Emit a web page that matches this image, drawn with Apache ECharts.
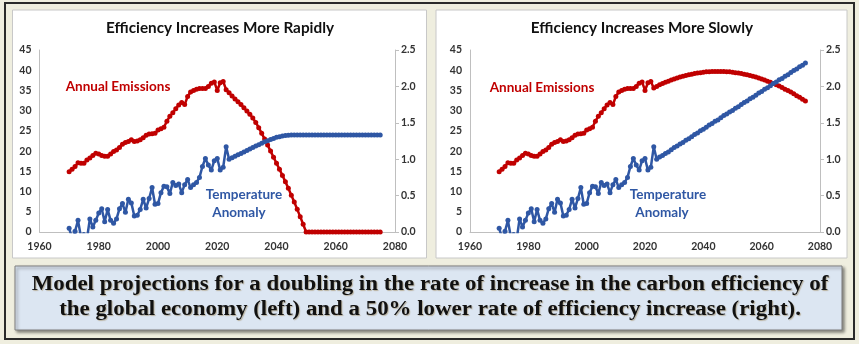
<!DOCTYPE html>
<html>
<head>
<meta charset="utf-8">
<script src="https://cdn.jsdelivr.net/npm/echarts@6/dist/echarts.min.js"></script>
<style>
html,body{margin:0;padding:0;background:#EFEEDF;}
#chart{width:859px;height:344px;}
</style>
</head>
<body>
<div id="chart"></div>
<script>
// ---- data ----
const histStartYear = 1970;
const emisHist = [14.9,15.5,16.2,17.1,17.0,17.0,17.8,18.3,18.9,19.5,
  19.3,18.9,18.7,18.7,19.3,19.9,20.3,20.9,21.7,22.1,
  22.4,22.8,22.4,22.5,22.8,23.3,23.9,24.2,24.3,24.4,
  25.2,25.5,25.9,27.4,28.6,29.5,30.5,31.4,32.0,31.5,
  33.5,34.6,35.0,35.3,35.5,35.5,35.5,36.0,36.8,37.1,
  35.0,36.9,37.2];                       // 1970-2022
const tempHist = [0.05,-0.08,0.01,0.16,-0.07,-0.01,-0.10,0.18,0.07,0.16,
  0.26,0.32,0.14,0.31,0.16,0.12,0.18,0.32,0.39,0.27,
  0.45,0.40,0.22,0.23,0.31,0.45,0.33,0.46,0.61,0.38,
  0.39,0.54,0.63,0.62,0.53,0.68,0.64,0.66,0.54,0.65,
  0.72,0.61,0.65,0.68,0.75,0.90,1.01,0.92,0.85,0.98,
  1.01,0.85,0.89,1.17];                  // 1970-2023
const emisProjStart = 2023;
const emisFast = [35.2,34.4,33.6,32.9,32.2,31.5,30.7,29.9,29.1,28.2,
  27.1,25.8,24.4,23.0,21.5,20.0,18.5,17.0,15.5,14.0,
  12.4,10.8,9.1,7.4,5.6,3.8,1.9,0.0,
  0,0,0,0,0,0,0,0,0,0,0,0,0,0,0,0,0,0,0,0,0,0,0,0,0]; // 2023-2075
const emisSlow = [35.6,36.0,36.4,36.7,37.0,37.3,37.6,37.8,38.1,38.3,
  38.5,38.7,38.9,39.0,39.2,39.3,39.4,39.5,39.6,39.6,
  39.7,39.7,39.7,39.7,39.7,39.6,39.6,39.5,39.4,39.3,
  39.2,39.0,38.9,38.7,38.5,38.3,38.1,37.8,37.6,37.3,
  37.0,36.7,36.4,36.1,35.7,35.3,35.0,34.6,34.2,33.7,
  33.3,32.8,32.4];                       // 2023-2075
const tempProjStart = 2024;
const tempFast = [1.00,1.02,1.04,1.06,1.08,1.10,1.12,1.14,1.16,1.18,
  1.20,1.22,1.24,1.255,1.27,1.285,1.30,1.31,1.318,1.324,
  1.328,1.331,1.333,1.333,1.333,1.333,1.333,1.333,1.333,1.333,
  1.333,1.333,1.333,1.333,1.333,1.333,1.333,1.333,1.333,1.333,
  1.333,1.333,1.333,1.333,1.333,1.333,1.333,1.333,1.333,1.333,
  1.333,1.333];                          // 2024-2075
const tempSlow = [1.00,1.03,1.05,1.08,1.10,1.13,1.16,1.18,1.21,1.23,
  1.26,1.28,1.31,1.34,1.36,1.39,1.41,1.44,1.47,1.49,
  1.52,1.54,1.57,1.60,1.62,1.65,1.67,1.70,1.72,1.75,
  1.78,1.80,1.83,1.85,1.88,1.91,1.93,1.96,1.98,2.01,
  2.04,2.06,2.09,2.11,2.14,2.16,2.19,2.22,2.24,2.27,
  2.29,2.32];                            // 2024-2075
const titles = ['Efficiency Increases More Rapidly','Efficiency Increases More Slowly'];
const captionLines = ['Model projections for a doubling in the rate of increase in the carbon efficiency of',
  'the global economy (left) and a 50% lower rate of efficiency increase (right).'];

// ---- build ----
function pairs(arr, y0){ return arr.map((v,i)=>[y0+i, v]); }
const emisLeft = pairs(emisHist, histStartYear).concat(pairs(emisFast, emisProjStart));
const emisRight = pairs(emisHist, histStartYear).concat(pairs(emisSlow, emisProjStart));
const tempLeft = pairs(tempHist, histStartYear).concat(pairs(tempFast, tempProjStart));
const tempRight = pairs(tempHist, histStartYear).concat(pairs(tempSlow, tempProjStart));

const RED = '#C00000', BLUE = '#2F57A4';
const FONT = 'Lato';
const axisLbl = {color:'#333333', fontFamily:FONT, fontWeight:'bold', fontSize:10.5};
const axisLine = {show:true, lineStyle:{color:'#BFBFBF', width:1}};

function xAx(gi){ return {type:'value', gridIndex:gi, min:1960, max:2080, interval:20,
  axisLine:axisLine, axisTick:{show:false}, splitLine:{show:false},
  axisLabel:Object.assign({margin:9, showMinLabel:true, showMaxLabel:true, formatter:v=>String(v)}, axisLbl)}; }
function yL(gi){ return {type:'value', gridIndex:gi, min:0, max:45, interval:5, position:'left',
  axisLine:axisLine, axisTick:{show:false}, splitLine:{show:false},
  axisLabel:Object.assign({margin:8}, axisLbl)}; }
function yR(gi){ return {type:'value', gridIndex:gi, min:0, max:2.5, interval:0.5, position:'right',
  axisLine:axisLine, axisTick:{show:true, length:4, lineStyle:{color:'#BFBFBF'}}, splitLine:{show:false},
  axisLabel:Object.assign({margin:6, formatter:v=>v.toFixed(1)}, axisLbl)}; }
function line(data, color, xi, yi){ return {type:'line', xAxisIndex:xi, yAxisIndex:yi, data:data,
  symbol:'circle', symbolSize:5, showAllSymbol:true, clip:true, animation:false,
  itemStyle:{color:color}, lineStyle:{color:color, width:2.5}}; }

function txt(x,y,text,size,color,weight,family){ return {type:'text', z:20, x:x, y:y,
  style:{text:text, fill:color, font:(weight||'bold')+' '+size+'px '+(family||FONT),
  textAlign:'center', textVerticalAlign:'middle'}}; }
function cap(y,text){ return {type:'text', z:20, x:430, y:y, scaleX:1.145, originX:0, originY:0,
  style:{text:text, fill:'#111', font:'bold 20px "Liberation Serif"',
  textAlign:'center', textVerticalAlign:'middle', textShadowColor:'rgba(120,80,0,0.35)',
  textShadowBlur:1, textShadowOffsetX:1, textShadowOffsetY:1}}; }

const chart = echarts.init(document.getElementById('chart'), null, {renderer:'canvas'});
chart.setOption({
  backgroundColor:'#EFEEDF',
  animation:false,
  grid:[{left:39.5, right:464, top:50, bottom:112},
        {left:470, right:39, top:50, bottom:112}],
  xAxis:[xAx(0), xAx(1)],
  yAxis:[yL(0), yR(0), yL(1), yR(1)],
  series:[line(emisLeft, RED, 0, 0), line(tempLeft, BLUE, 0, 1),
          line(emisRight, RED, 1, 2), line(tempRight, BLUE, 1, 3)],
  graphic:[
    {type:'rect', z:-10, shape:{x:5, y:3, width:849, height:336}, style:{fill:'#EFEEDF', stroke:'#2A2A2A', lineWidth:2}},
    {type:'rect', z:-9, shape:{x:12.5, y:10, width:414, height:248}, style:{fill:'#FFFFFF', stroke:'#C8C8C8', lineWidth:1}},
    {type:'rect', z:-9, shape:{x:436, y:10, width:411, height:248}, style:{fill:'#FFFFFF', stroke:'#C8C8C8', lineWidth:1}},
    {type:'rect', z:-9, shape:{x:15, y:266, width:827, height:64},
      style:{fill:'#DCE6F2', stroke:'#7F7F7F', lineWidth:1, shadowColor:'rgba(0,0,0,0.45)', shadowBlur:3, shadowOffsetX:2, shadowOffsetY:2}},
    txt(220, 28, titles[0], 15.3, '#111'),
    txt(642, 28, titles[1], 15.3, '#111'),
    txt(118, 87, 'Annual Emissions', 13.5, RED),
    txt(542, 88, 'Annual Emissions', 13.5, RED),
    txt(244, 195, 'Temperature', 13.5, BLUE),
    txt(239, 213, 'Anomaly', 13.5, BLUE),
    txt(668, 195, 'Temperature', 13.5, BLUE),
    txt(662, 213, 'Anomaly', 13.5, BLUE),
    cap(285, captionLines[0]),
    cap(310, captionLines[1])
  ]
});
</script>
</body>
</html>
